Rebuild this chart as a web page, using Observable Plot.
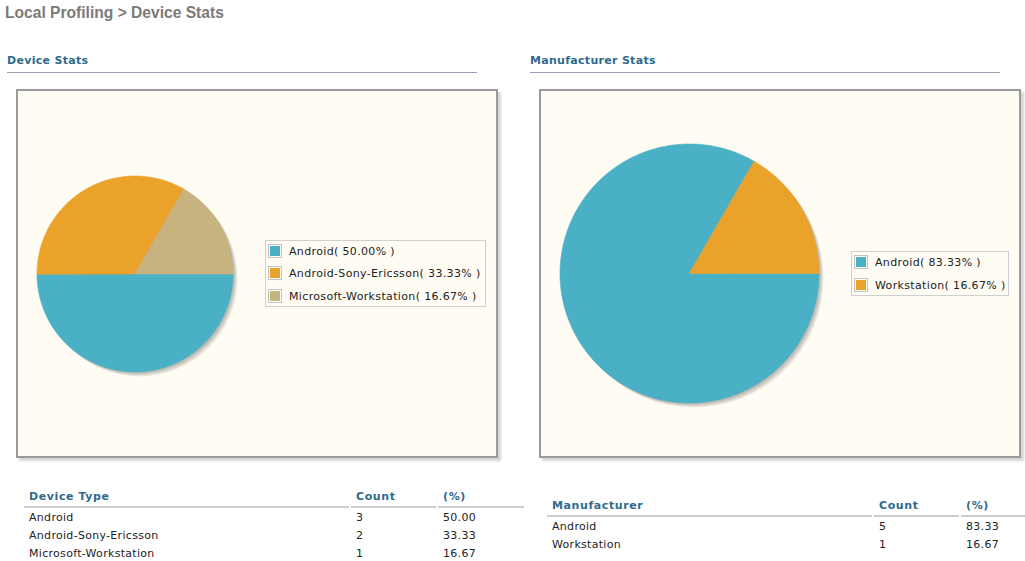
<!DOCTYPE html>
<html>
<head>
<meta charset="utf-8">
<script src="https://cdn.jsdelivr.net/npm/d3@7"></script>
<script src="https://cdn.jsdelivr.net/npm/@observablehq/plot@0.6"></script>
<style>
  body { margin:0; background:#fff; font-family:"DejaVu Sans", Verdana, sans-serif; width:1025px; height:561px; overflow:hidden; position:relative; }
  .abs { position:absolute; white-space:nowrap; }
  .title { font: bold 15.6px "Liberation Sans", Arial, sans-serif; color:#7a7a7a; }
  .sec { font: bold 11px "DejaVu Sans", Verdana, sans-serif; color:#2e6a8e; line-height:14px; letter-spacing:0.3px; }
  .rule { height:1px; background:#9ca0b6; }
  .box { box-sizing:border-box; border:2px solid #9a9a9a; background:#fffcf4; box-shadow:3px 3px 2px #d6d6d6; }
  .legend { box-sizing:border-box; border:1px solid #cfcfcf; background:#fffcf4; }
  .lgtext { font-size:11px; color:#222; line-height:14px; letter-spacing:0.35px; }
  .sw { box-sizing:border-box; width:14px; height:14px; border:1px solid #c4c4c4; padding:1px; background-clip:content-box; }
  .th { font: bold 11px "DejaVu Sans", Verdana, sans-serif; color:#2e6a8e; line-height:14px; letter-spacing:0.6px; }
  .td { font-size:11px; color:#222; line-height:14px; letter-spacing:0.3px; }
  .tline { height:2px; background:#cdcdcd; }
</style>
</head>
<body>
<script>
// ---- data ----
const deviceTypes = ["Android", "Android-Sony-Ericsson", "Microsoft-Workstation"];
const deviceCounts = [3, 2, 1];
const devicePercents = ["50.00", "33.33", "16.67"];
const manufacturers = ["Android", "Workstation"];
const manufacturerCounts = [5, 1];
const manufacturerPercents = ["83.33", "16.67"];
const deviceColors = ["#4ab0c5", "#eba22a", "#c7b37f"];
const manufacturerColors = ["#4ab0c5", "#eba22a"];

const body = document.body;
function el(cls, left, top, text, extra) {
  const d = document.createElement("div");
  d.className = "abs " + cls;
  d.style.left = left + "px";
  d.style.top = top + "px";
  if (text != null) d.textContent = text;
  if (extra) Object.assign(d.style, extra);
  body.appendChild(d);
  return d;
}

// page title and section headers
el("title", 5, 4, "Local Profiling > Device Stats");
el("sec", 7, 54, "Device Stats");
el("rule", 7, 72, null, {width: "470px"});
el("sec", 530, 54, "Manufacturer Stats");
el("rule", 530, 72, null, {width: "470px"});

// chart boxes
el("box", 16, 89, null, {width: "482px", height: "369px"});
el("box", 539, 89, null, {width: "482px", height: "369px"});

function pieChart(names, counts, colors, r) {
  const arcs = d3.pie().sort(null).startAngle(0).endAngle(2 * Math.PI)(counts);
  const pts = [];
  arcs.forEach((a, i) => {
    const n = Math.max(2, Math.ceil((a.endAngle - a.startAngle) / (Math.PI / 180)));
    for (let k = 0; k <= n; k++) {
      const t = a.startAngle + (a.endAngle - a.startAngle) * k / n;
      pts.push({name: names[i], x: Math.cos(t), y: -Math.sin(t)});
    }
  });
  const pad = 4, w = 2 * r + pad * 2 + 6;
  const shadow = [1, 2, 3, 4].map(d => Plot.dot([0], {x: () => 0, y: () => 0, r, dx: d, dy: d, fill: "#000", fillOpacity: 0.07}));
  return Plot.plot({
    width: w, height: w, margin: 0,
    x: {domain: [-1, 1], range: [pad, pad + 2 * r], axis: null},
    y: {domain: [-1, 1], range: [pad + 2 * r, pad], axis: null},
    color: {domain: names, range: colors},
    style: {background: "transparent", overflow: "visible"},
    marks: [
      ...shadow,
      Plot.area(pts, {x1: () => 0, y1: () => 0, x2: "x", y2: "y", z: "name", fill: "name", stroke: "name", strokeWidth: 0.6, curve: "linear"})
    ]
  });
}

function placePie(names, counts, colors, cx, cy, r) {
  const svg = pieChart(names, counts, colors, r);
  const wrap = el("", cx - r - 4, cy - r - 4);
  wrap.appendChild(svg);
}
placePie(deviceTypes, deviceCounts, deviceColors, 135, 273.5, 98);
placePie(manufacturers, manufacturerCounts, manufacturerColors, 689.5, 273.5, 129.5);

// legends
function legend(names, percents, colors, left, top, width, height, rowYs) {
  el("legend", left, top, null, {width: width + "px", height: height + "px"});
  names.forEach((n, i) => {
    const cy = rowYs[i];
    el("sw", left + 3, cy - 7, null, {backgroundColor: colors[i]});
    el("lgtext", left + 24, cy - 6, `${n}( ${percents[i]}% )`);
  });
}
legend(deviceTypes, devicePercents, deviceColors, 265, 240, 221, 67, [251, 273, 296]);
legend(manufacturers, manufacturerPercents, manufacturerColors, 851, 251, 158, 45, [262, 285]);

// tables
function table(headers, names, counts, percents, cols, headY, lineY, lineX0, lineX1, gaps, rowYs) {
  headers.forEach((h, i) => el("th", cols[i], headY - 6, h));
  const stops = [lineX0, ...gaps, lineX1];
  for (let i = 0; i < stops.length - 1; i++) {
    const a = i === 0 ? stops[i] : stops[i] + 1;
    const b = i === stops.length - 2 ? stops[i + 1] : stops[i + 1] - 1;
    el("tline", a, lineY, null, {width: (b - a) + "px"});
  }
  names.forEach((n, i) => {
    const y = rowYs[i] - 6;
    el("td", cols[0], y, n);
    el("td", cols[1], y, String(counts[i]));
    el("td", cols[2], y, percents[i]);
  });
}
table(["Device Type", "Count", "(%)"], deviceTypes, deviceCounts, devicePercents,
      [29, 356, 443], 496, 506, 24, 524, [350, 437], [517, 535, 553]);
table(["Manufacturer", "Count", "(%)"], manufacturers, manufacturerCounts, manufacturerPercents,
      [552, 879, 966], 505, 515, 547, 1025, [873, 960], [526, 544]);
</script>
</body>
</html>
